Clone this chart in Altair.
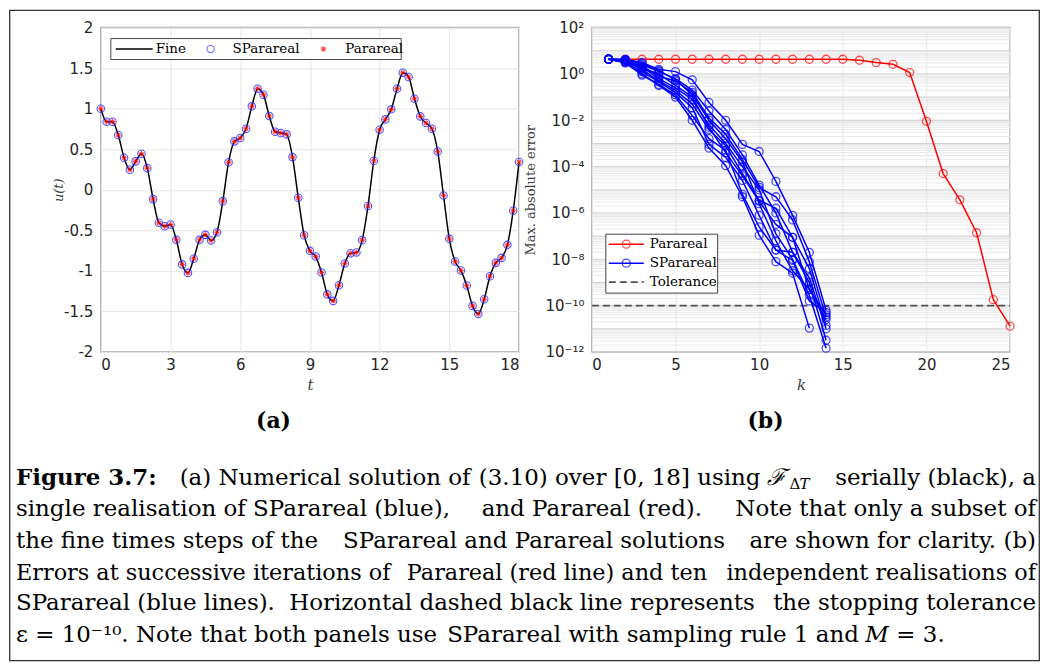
import altair as alt
import pandas as pd

# ---------------- Panel (a) data ----------------
t_vals = [0, 0.25, 0.5, 0.75, 1, 1.25, 1.5, 1.75, 2, 2.25, 2.5, 2.75, 3, 3.25, 3.5, 3.75,
          4, 4.25, 4.5, 4.75, 5, 5.25, 5.5, 5.75, 6, 6.25, 6.5, 6.75, 7, 7.25, 7.5, 7.75,
          8, 8.25, 8.5, 8.75, 9, 9.25, 9.5, 9.75, 10, 10.25, 10.5, 10.75, 11, 11.25, 11.5,
          11.75, 12, 12.25, 12.5, 12.75, 13, 13.25, 13.5, 13.75, 14, 14.25, 14.5, 14.75,
          15, 15.25, 15.5, 15.75, 16, 16.25, 16.5, 16.75, 17, 17.25, 17.5, 17.75, 18]
u_vals = [1.0, 0.84, 0.84, 0.675, 0.395, 0.247, 0.35, 0.444, 0.267, -0.115, -0.407, -0.449,
          -0.428, -0.617, -0.92, -1.025, -0.85, -0.617, -0.556, -0.626, -0.523, -0.14, 0.34,
          0.597, 0.638, 0.753, 1.029, 1.247, 1.173, 0.909, 0.716, 0.70, 0.683, 0.403, -0.099,
          -0.56, -0.753, -0.823, -1.02, -1.29, -1.37, -1.177, -0.909, -0.782, -0.774, -0.621,
          -0.2, 0.358, 0.74, 0.868, 0.992, 1.247, 1.444, 1.391, 1.123, 0.905, 0.823, 0.753,
          0.473, -0.07, -0.605, -0.885, -0.996, -1.181, -1.432, -1.531, -1.35, -1.066, -0.901,
          -0.84, -0.679, -0.259, 0.342]

# ---------------- Panel (b) data ----------------
k_red = list(range(2, 26))
err_red = [4.3, 4.3, 4.3, 4.3, 4.3, 4.3, 4.3, 4.3, 4.3, 4.3, 4.3, 4.3, 4.3, 4.3,
           3.9, 3.1, 2.6, 1.15, 9e-3, 5e-5, 3.7e-6, 1.4e-7, 1.8e-10, 1.3e-11]

sp_runs = [
    [4.3, 4.27, 3.16, 1.58, 1.26, 0.56, 0.059, 0.01, 9.1e-4, 4.5e-4, 2.3e-5, 7.9e-7, 2e-8, 6.3e-11],
    [4.3, 3.98, 2.24, 0.79, 0.5, 0.16, 0.0126, 2.5e-3, 2e-4, 1.26e-5, 5e-6, 5e-7, 7.9e-9, 3.2e-11],
    [4.3, 3.55, 1.58, 0.5, 0.2, 0.05, 4e-3, 7.9e-4, 5e-5, 3.5e-6, 1.6e-6, 8.9e-8, 4e-9, 1.4e-11],
    [4.3, 3.16, 1.0, 0.32, 0.1, 0.01, 6.3e-4, 1.1e-4, 5e-6, 1.1e-7, 7.9e-9, 2.5e-9, 1.07e-11],
    [4.3, 3.98, 2.5, 1.26, 0.63, 0.2, 0.025, 4e-3, 3.2e-4, 1.6e-5, 1e-6, 2e-8, 1e-9, 3.2e-12],
    [4.3, 3.8, 2.0, 0.63, 0.25, 0.079, 6.3e-3, 1e-3, 1e-4, 1e-5, 1.26e-7, 1e-8, 2.8e-10, 1.45e-12],
    [4.3, 3.3, 1.26, 0.45, 0.16, 0.035, 9.1e-4, 2.5e-4, 2.5e-5, 7.9e-7, 2.5e-8, 8.9e-9, 1.6e-10, 5e-11],
    [4.3, 4.17, 2.8, 1.41, 0.56, 0.126, 0.01, 1.6e-3, 1.6e-4, 2.5e-6, 6.3e-8, 3.2e-9, 5e-10, 2.5e-11],
    [4.3, 3.0, 0.89, 0.35, 0.126, 0.016, 1.6e-3, 5e-4, 6.3e-6, 2.5e-7, 2.5e-8, 2e-8, 1.6e-9, 1e-11],
    [4.3, 3.55, 1.78, 1.0, 0.32, 0.1, 5e-3, 4e-4, 4e-5, 3.2e-6, 3.2e-7, 8.9e-8, 5e-10, 4e-11],
]
tolerance = 1e-10

x_ticks_a = [0, 3, 6, 9, 12, 15, 18]
y_ticks_a = [-2, -1.5, -1, -0.5, 0, 0.5, 1, 1.5, 2]
x_ticks_b = [0, 5, 10, 15, 20, 25]
y_ticks_b = [1e-12, 1e-10, 1e-8, 1e-6, 1e-4, 1e-2, 1, 1e2]

# ---------------- styling ----------------
W, H = 419, 325
SERIF = "DejaVu Serif"
SANS = "DejaVu Sans"
LBL = "#262626"
TTL = "#404040"
BOX = "#a8a8a8"
ASTERISK = "M-1,0L1,0M0,-1L0,1M-0.72,-0.72L0.72,0.72M-0.72,0.72L0.72,-0.72"
one = pd.DataFrame({"z": [0]})


def ax_common(**kw):
    base = dict(labelFont=SANS, labelFontSize=15, labelColor=LBL, tickSize=0,
                domain=False, titleFont=SERIF, titleColor=TTL, titleFontWeight="normal")
    base.update(kw)
    return alt.Axis(**base)


def vtext(s, px, py, size=13.5, align="left", weight="normal", style="normal", color="black"):
    return alt.Chart(one).mark_text(align=align, baseline="middle", font=SERIF, fontSize=size,
                                    fontWeight=weight, fontStyle=style, color=color).encode(
        x=alt.value(px), y=alt.value(py), text=alt.value(s))


# ---------------- Panel (a) ----------------
dfa = pd.DataFrame({"t": t_vals, "u": u_vals})
xa = alt.X("t:Q", scale=alt.Scale(domain=[0, 18], nice=False),
           axis=ax_common(values=x_ticks_a, title="t", titleFontStyle="italic",
                          titleFontSize=15, titleX=W / 2, titleY=33, titleBaseline="middle",
                          labelPadding=6, grid=True, gridColor="#e6e6e6", gridWidth=1))
ya = alt.Y("u:Q", scale=alt.Scale(domain=[-2, 2], nice=False),
           axis=ax_common(values=y_ticks_a, title="u(t)", titleFontStyle="italic",
                          titleFontSize=13, titleX=-42, titleY=H / 2, titleBaseline="middle",
                          labelExpr="toString(datum.value)", labelPadding=8,
                          grid=True, gridColor="#e6e6e6", gridWidth=1))

fine = alt.Chart(dfa).mark_line(color="black", strokeWidth=1.5, interpolate="monotone").encode(x=xa, y=ya)
sp_a = alt.Chart(dfa).mark_point(shape="circle", filled=False, color="#3535ff", size=56,
                                 strokeWidth=1.1, opacity=0.85).encode(x=xa, y=ya)
pa_a = alt.Chart(dfa).mark_point(shape=ASTERISK, filled=False, color="#ff0000", size=30,
                                 strokeWidth=1.1).encode(x=xa, y=ya)

leg_a = [
    alt.Chart(one).mark_rect(fill="white", stroke="#444444", strokeWidth=1).encode(
        x=alt.value(10), x2=alt.value(301), y=alt.value(11), y2=alt.value(32)),
    alt.Chart(one).mark_rule(color="black", strokeWidth=1.5).encode(
        x=alt.value(15), x2=alt.value(52), y=alt.value(21.5)),
    vtext("Fine", 55, 21.5),
    alt.Chart(one).mark_point(shape="circle", filled=False, color="#3535ff", size=52, strokeWidth=1.1).encode(
        x=alt.value(110), y=alt.value(21.5)),
    vtext("SParareal", 132, 21.5),
    alt.Chart(one).mark_point(shape=ASTERISK, filled=False, color="#ff0000", size=30, strokeWidth=1.1).encode(
        x=alt.value(223), y=alt.value(21.5)),
    vtext("Parareal", 245, 21.5),
]

# ---------------- Caption + frame (drawn in panel (a)'s coordinates) ----------------
OX, OY = 100, 26   # page position of panel (a)'s plot origin
CS = 23            # caption font size


def ptext(s, px, py, size=CS, align="left", weight="normal", style="normal"):
    return vtext(s, px - OX, py - OY, size=size, align=align, weight=weight, style=style)


L, R = 15, 1037
cap = [
    alt.Chart(one).mark_rect(fill=None, stroke="#333333", strokeWidth=1.3).encode(
        x=alt.value(8.7 - OX), x2=alt.value(1040.3 - OX), y=alt.value(8.7 - OY),
        y2=alt.value(660.3 - OY)),
    ptext("(a)", 273, 420, size=22, align="center", weight="bold"),
    ptext("(b)", 766, 420, size=22, align="center", weight="bold"),
    # line 1
    ptext("Figure 3.7:", L, 477, weight="bold"),
    ptext("(a) Numerical solution of", 179, 477),
    ptext("(3.10) over [0, 18] using", 761, 477, align="right"),
    ptext("\u2131", 767, 477, style="italic"),
    ptext("\u0394", 790, 483, size=15),
    ptext("T", 800, 483, size=15, style="italic"),
    ptext("serially (black), a", R, 477, align="right"),
    # line 2
    ptext("single realisation of SParareal (blue),", L, 508),
    ptext("and Parareal (red).", 592, 508, align="center"),
    ptext("Note that only a subset of", R, 508, align="right"),
    # line 3
    ptext("the fine times steps of the", L, 540),
    ptext("SParareal and Parareal solutions", 534, 540, align="center"),
    ptext("are shown for clarity. (b)", R, 540, align="right"),
    # line 4
    ptext("Errors at successive iterations of", L, 572, size=22.4),
    ptext("Parareal (red line) and ten", 557, 572, size=22.4, align="center"),
    ptext("independent realisations of", R, 572, size=22.4, align="right"),
    # line 5
    ptext("SParareal (blue lines).", L, 603),
    ptext("Horizontal dashed black line represents", 522, 603, align="center"),
    ptext("the stopping tolerance", R, 603, align="right"),
    # line 6
    ptext("\u03b5 = 10\u207b\u00b9\u2070. Note that both panels use", L, 635),
    ptext("SParareal with sampling rule 1 and", 447, 635),
    ptext("M", 866, 635, style="italic"),
    ptext("= 3.", 897, 635),
]

panel_a = alt.layer(fine, sp_a, pa_a, *leg_a, *cap).properties(
    width=W, height=H, view=alt.ViewBackground(stroke=BOX, strokeWidth=1.5))

# ---------------- Panel (b) ----------------
dfr = pd.DataFrame({"k": k_red, "e": err_red})
rows = []
for i, run in enumerate(sp_runs):
    for j, v in enumerate(run):
        rows.append({"run": i, "k": j + 1, "e": v})
dfb = pd.DataFrame(rows)

grid_rows = []
for n in range(-12, 2):
    for m in range(1, 10):
        grid_rows.append({"e": m * 10.0 ** n, "kind": "major" if m == 1 else "minor"})
grid_rows.append({"e": 100.0, "kind": "major"})
dfg = pd.DataFrame(grid_rows)

sup = ("'10' + replace(replace(replace(replace(replace(replace(replace(replace("
       "toString(round(log(datum.value)/LN10)),'-','\u207b'),'0','\u2070'),'1','\u00b9'),"
       "'2','\u00b2'),'4','\u2074'),'6','\u2076'),'8','\u2078'),'3','\u00b3')")

xb = alt.X("k:Q", scale=alt.Scale(domain=[0, 25], nice=False),
           axis=ax_common(values=x_ticks_b, title="k", titleFontStyle="italic",
                          titleFontSize=15, titleX=W / 2, titleY=33, titleBaseline="middle",
                          labelPadding=6, grid=True, gridColor="#e6e6e6", gridWidth=1))
yb = alt.Y("e:Q", scale=alt.Scale(type="log", domain=[1e-12, 1e2], nice=False),
           axis=ax_common(values=y_ticks_b, title="Max. absolute error", titleFontSize=13,
                          titleX=-61, titleY=H / 2, titleBaseline="middle",
                          labelExpr=sup, labelPadding=8, grid=False))

grid_b = alt.Chart(dfg).mark_rule(strokeWidth=1).encode(
    y=yb,
    color=alt.Color("kind:N", scale=alt.Scale(domain=["major", "minor"], range=["#d0d0d0", "#e8e8e8"]),
                    legend=None))
tol_df = pd.DataFrame({"k": [0], "k2": [25], "e": [tolerance]})
tol = alt.Chart(tol_df).mark_rule(color="#505050", strokeWidth=1.7, strokeDash=[7, 4]).encode(
    x=xb, x2="k2:Q", y=yb)
red_line = alt.Chart(dfr).mark_line(color="#ff0000", strokeWidth=1.5).encode(x=xb, y=yb)
red_pts = alt.Chart(dfr).mark_point(shape="circle", filled=False, color="#ff0000", size=64,
                                    strokeWidth=1.3).encode(x=xb, y=yb)
blue_line = alt.Chart(dfb).mark_line(color="#0000ff", strokeWidth=1.5).encode(x=xb, y=yb, detail="run:N")
blue_pts = alt.Chart(dfb).mark_point(shape="circle", filled=False, color="#0000ff", size=64,
                                     strokeWidth=1.3).encode(x=xb, y=yb)

leg_b = [
    alt.Chart(one).mark_rect(fill="white", stroke="#444444", strokeWidth=1).encode(
        x=alt.value(14), x2=alt.value(126), y=alt.value(207), y2=alt.value(266)),
    alt.Chart(one).mark_rule(color="#ff0000", strokeWidth=1.5).encode(
        x=alt.value(17), x2=alt.value(52), y=alt.value(217)),
    alt.Chart(one).mark_point(shape="circle", filled=False, color="#ff0000", size=64, strokeWidth=1.3).encode(
        x=alt.value(34.5), y=alt.value(217)),
    vtext("Parareal", 58, 217),
    alt.Chart(one).mark_rule(color="#0000ff", strokeWidth=1.5).encode(
        x=alt.value(17), x2=alt.value(52), y=alt.value(236)),
    alt.Chart(one).mark_point(shape="circle", filled=False, color="#0000ff", size=64, strokeWidth=1.3).encode(
        x=alt.value(34.5), y=alt.value(236)),
    vtext("SParareal", 58, 236),
    alt.Chart(one).mark_rule(color="#505050", strokeWidth=1.7, strokeDash=[7, 4]).encode(
        x=alt.value(17), x2=alt.value(52), y=alt.value(255)),
    vtext("Tolerance", 58, 255),
]

panel_b = alt.layer(grid_b, tol, red_line, red_pts, blue_line, blue_pts, *leg_b).properties(
    width=W, height=H, view=alt.ViewBackground(stroke=BOX, strokeWidth=1.5))

chart = alt.hconcat(panel_a, panel_b, spacing=73, bounds="flush").properties(padding=0).configure(
    background="white")

chart.save("out.html", embed_options={"renderer": "svg", "actions": False})
